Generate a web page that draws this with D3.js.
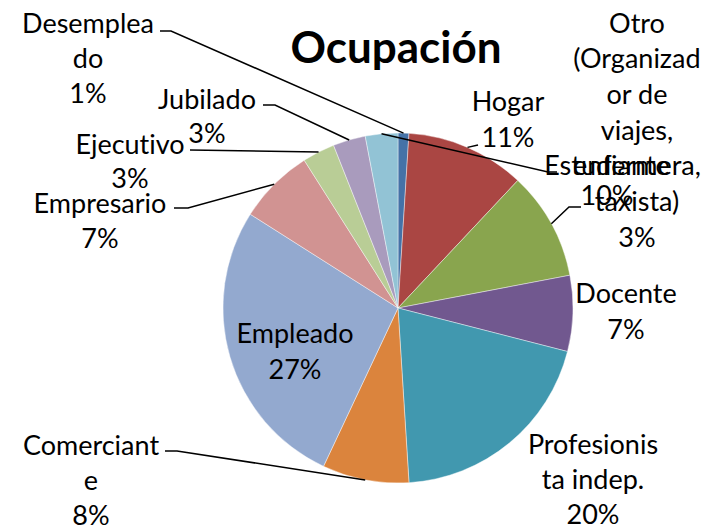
<!DOCTYPE html>
<html lang="es">
<head>
<meta charset="UTF-8">
<title>Ocupación</title>
<script src="https://d3js.org/d3.v7.min.js"></script>
<style>
  body { margin: 0; background: #fff; }
  svg { display: block; font-family: Lato, "Liberation Sans", sans-serif; font-variant-ligatures: none; }
  .label { font-size: 27px; fill: #000; }
  .title { font-size: 44px; font-weight: bold; fill: #000; }
  .leader { fill: none; stroke: #000; stroke-width: 1.5; }
</style>
</head>
<body>
<svg id="chart" width="721" height="526"></svg>
<script>
// data (percent, clockwise from 12 o'clock)
const categories = ["Desempleado", "Hogar", "Estudiante", "Docente", "Profesionista indep.",
  "Comerciante", "Empleado", "Empresario", "Ejecutivo", "Jubilado",
  "Otro (Organizador de viajes, enfermera, taxista)"];
const values = [1, 11, 10, 7, 20, 8, 27, 7, 3, 3, 3];
const labelLines = [
  ["Desemplea", "do"], ["Hogar"], ["Estudiante"], ["Docente"], ["Profesionis", "ta indep."],
  ["Comerciant", "e"], ["Empleado"], ["Empresario"], ["Ejecutivo"], ["Jubilado"],
  ["Otro", "(Organizad", "or de", "viajes,", "enfermera,", "taxista)"]
];
const colors = ["#4572A7", "#AA4643", "#89A54E", "#71588F", "#4198AF", "#DB843D",
  "#93A9CF", "#D19392", "#B9CD96", "#A99BBD", "#92C3D5"];

// label placement (Excel "best fit" style), leader start points
const layout = {
  "Desempleado": { x: 88, y: 22, lh: 35, leader: [[160, 31], [171, 31]] },
  "Hogar": { x: 508, y: 100, lh: 36, leader: [[478, 145]] },
  "Estudiante": { x: 607, y: 164, lh: 30, leader: [[581, 207], [569, 207]] },
  "Docente": { x: 626, y: 292, lh: 36, leader: null },
  "Profesionista indep.": { x: 593, y: 443, lh: 35, leader: null },
  "Comerciante": { x: 91, y: 444, lh: 35, leader: [[165, 451], [177, 451]] },
  "Empleado": { x: 295, y: 332, lh: 36, leader: null },
  "Empresario": { x: 100, y: 202, lh: 35, leader: [[174, 208], [188, 208]] },
  "Ejecutivo": { x: 130, y: 143, lh: 34, leader: [[190, 150]] },
  "Jubilado": { x: 207, y: 98, lh: 34, leader: [[263, 105], [275, 105]] },
  "Otro (Organizador de viajes, enfermera, taxista)": { x: 637, y: 22, lh: 35.7, leader: [[557, 172], [548, 172]] }
};

const svg = d3.select("#chart");
const cx = 398, cy = 308, radius = 175;

const pie = d3.pie().sort(null).value(d => d.value);
const arc = d3.arc().innerRadius(0).outerRadius(radius);

const data = categories.map((c, i) => ({ name: c, value: values[i], lines: labelLines[i], color: colors[i] }));
const arcs = pie(data);

const g = svg.append("g").attr("transform", `translate(${cx},${cy})`);

g.selectAll("path.slice")
  .data(arcs)
  .enter().append("path")
  .attr("class", "slice")
  .attr("d", arc)
  .attr("fill", d => d.data.color)
  .attr("stroke", "#fff")
  .attr("stroke-opacity", 0.6)
  .attr("stroke-width", 0.7);

// leader lines
function edgePoint(d) {
  const a = (d.startAngle + d.endAngle) / 2;
  return [cx + radius * Math.sin(a), cy - radius * Math.cos(a)];
}
arcs.forEach(d => {
  const l = layout[d.data.name];
  if (!l.leader) return;
  const pts = l.leader.concat([edgePoint(d)]);
  svg.append("path")
    .attr("class", "leader")
    .attr("d", d3.line()(pts));
});

// labels
arcs.forEach(d => {
  const l = layout[d.data.name];
  const lines = d.data.lines.concat([Math.round(d.data.value) + "%"]);
  const t = svg.append("text")
    .attr("class", "label")
    .attr("text-anchor", "middle");
  lines.forEach((s, i) => {
    t.append("tspan")
      .attr("x", l.x)
      .attr("y", l.y + i * l.lh)
      .attr("dominant-baseline", "central")
      .text(s);
  });
});

svg.append("text")
  .attr("class", "title")
  .attr("x", 396)
  .attr("y", 46)
  .attr("text-anchor", "middle")
  .attr("dominant-baseline", "central")
  .text("Ocupación");
</script>
</body>
</html>
